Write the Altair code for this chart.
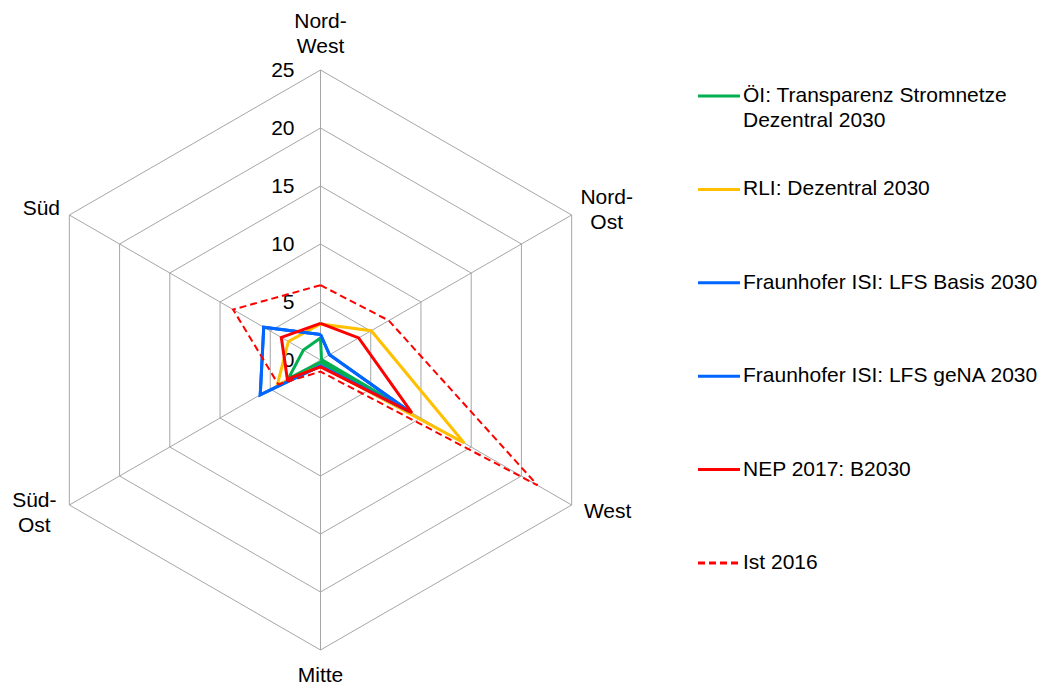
import altair as alt
import pandas as pd
import numpy as np

# ---------------- data ----------------
categories = ["Nord-West", "Nord-Ost", "West", "Mitte", "Süd-Ost", "Süd"]
category_labels = ["Nord-\nWest", "Nord-\nOst", "West", "Mitte", "Süd-\nOst", "Süd"]
series_names = [
    "ÖI: Transparenz Stromnetze Dezentral 2030",
    "RLI: Dezentral 2030",
    "Fraunhofer ISI: LFS Basis 2030",
    "Fraunhofer ISI: LFS geNA 2030",
    "NEP 2017: B2030",
    "Ist 2016",
]
legend_labels = [
    "ÖI: Transparenz Stromnetze\nDezentral 2030",
    "RLI: Dezentral 2030",
    "Fraunhofer ISI: LFS Basis 2030",
    "Fraunhofer ISI: LFS geNA 2030",
    "NEP 2017: B2030",
    "Ist 2016",
]
oei = [1.9, 0.1, 8.6, 0.2, 3.2, 1.7]
rli = [3.1, 5.05, 14.3, 0.5, 4.3, 3.2]
fh_basis = [2.2, 0.9, 8.8, 0.5, 6.0, 5.65]
fh_gena = [2.2, 0.9, 8.8, 0.5, 6.0, 5.65]
nep = [3.15, 3.8, 9.1, 0.6, 3.3, 3.9]
ist = [6.45, 6.8, 21.6, 1.0, 4.2, 8.7]
series_values = [oei, rli, fh_basis, fh_gena, nep, ist]
ticks = [0, 5, 10, 15, 20, 25]

# ---------------- style ----------------
colors = ["#00B050", "#FFC000", "#0066FF", "#0066FF", "#FF0000", "#FF0000"]
dashed = [False, False, False, False, False, True]
FONT = "Liberation Sans"
FS = 21
W, H = 1041, 682
CX, CY = 312.5, 352.0     # centre of the radar in chart pixels
K = 11.6                  # pixels per unit
# label offsets (pixels) from the outer vertex (first line for multi-line labels)
lab_dx = [0, 35, 36, 0, -35, -28]
lab_dy = [-48.5, -17.5, 7, 26, -4, -6]
LEG_X1, LEG_X2, LEG_TX = 690, 732, 735
LEG_Y0, LEG_STEP, LEG_LH = 88, 93.4, 25

rmax = max(ticks)
ang = np.deg2rad(np.arange(len(categories)) * 360.0 / len(categories))

xs = alt.Scale(domain=[-CX / K, (W - CX) / K], nice=False, zero=False)
ys = alt.Scale(domain=[-(H - CY) / K, CY / K], nice=False, zero=False)
X = lambda f: alt.X(f, type="quantitative", scale=xs, axis=None)
Y = lambda f: alt.Y(f, type="quantitative", scale=ys, axis=None)

# grid rings
rows = []
for r in ticks[1:]:
    for j in range(len(categories) + 1):
        i = j % len(categories)
        rows.append({"ring": r, "o": j, "x": r * np.sin(ang[i]), "y": r * np.cos(ang[i])})
ring_df = pd.DataFrame(rows)
rings = alt.Chart(ring_df).mark_line(color="#A6A6A6", strokeWidth=1).encode(
    x=X("x"), y=Y("y"), detail="ring:N", order="o:Q"
)

spoke_df = pd.DataFrame({
    "x": 0.0, "y": 0.0,
    "x2": rmax * np.sin(ang), "y2": rmax * np.cos(ang),
})
spokes = alt.Chart(spoke_df).mark_rule(color="#A6A6A6", strokeWidth=1).encode(
    x=X("x"), y=Y("y"), x2="x2:Q", y2="y2:Q"
)

tick_df = pd.DataFrame({"v": ticks, "x": 0.0, "t": [str(t) for t in ticks]})
tick_text = alt.Chart(tick_df).mark_text(
    align="right", baseline="middle", dx=-26, dy=1, font=FONT, fontSize=FS, color="#000000"
).encode(x=X("x"), y=Y("v"), text="t:N")

cat_df = pd.DataFrame({
    "label": category_labels,
    "x": rmax * np.sin(ang) + np.array(lab_dx) / K,
    "y": rmax * np.cos(ang) - np.array(lab_dy) / K,
})
cat_text = alt.Chart(cat_df).mark_text(
    align="center", baseline="middle", lineBreak="\n", lineHeight=25,
    font=FONT, fontSize=FS, color="#000000"
).encode(x=X("x"), y=Y("y"), text="label:N")

layers = [rings, spokes, tick_text, cat_text]

for name, vals, col, dsh in zip(series_names, series_values, colors, dashed):
    rows = []
    for j in range(len(categories) + 1):
        i = j % len(categories)
        rows.append({"series": name, "o": j, "x": vals[i] * np.sin(ang[i]), "y": vals[i] * np.cos(ang[i])})
    df = pd.DataFrame(rows)
    if dsh:
        mk = alt.Chart(df).mark_line(color=col, strokeWidth=2, strokeDash=[7, 4])
    else:
        mk = alt.Chart(df).mark_line(color=col, strokeWidth=3)
    layers.append(mk.encode(x=X("x"), y=Y("y"), order="o:Q"))

# legend (manual)
leg_rows, leg_text_rows = [], []
for i, (name, lab) in enumerate(zip(series_names, legend_labels)):
    ly = LEG_Y0 + i * LEG_STEP
    leg_rows.append({"series": name, "ly": ly})
    for j, line in enumerate(lab.split("\n")):
        leg_text_rows.append({"t": line, "ly": ly + j * LEG_LH, "k": f"{i}-{j}"})
leg_df = pd.DataFrame(leg_rows)
leg_tdf = pd.DataFrame(leg_text_rows)

cscale = alt.Scale(domain=series_names, range=colors)
dscale = alt.Scale(domain=series_names, range=[[7, 4] if d else [1, 0] for d in dashed])
leg_lines = alt.Chart(leg_df).mark_rule(strokeWidth=3).encode(
    x=alt.value(LEG_X1), x2=alt.value(LEG_X2),
    y=alt.Y("ly:Q", scale=None, axis=None),
    color=alt.Color("series:N", scale=cscale, legend=None),
    strokeDash=alt.StrokeDash("series:N", scale=dscale, legend=None),
)
leg_text = alt.Chart(leg_tdf).mark_text(
    align="left", baseline="middle", font=FONT, fontSize=FS, color="#000000"
).encode(
    x=alt.value(LEG_TX), y=alt.Y("ly:Q", scale=None, axis=None), text="t:N", detail="k:N"
)
layers += [leg_lines, leg_text]

chart = alt.layer(*layers).properties(
    width=W, height=H, autosize=alt.AutoSizeParams(type="none"), padding=0
).configure_view(stroke=None).resolve_scale(color="independent", strokeDash="independent")

chart.save("out.html", embed_options={"renderer": "svg", "actions": False})
